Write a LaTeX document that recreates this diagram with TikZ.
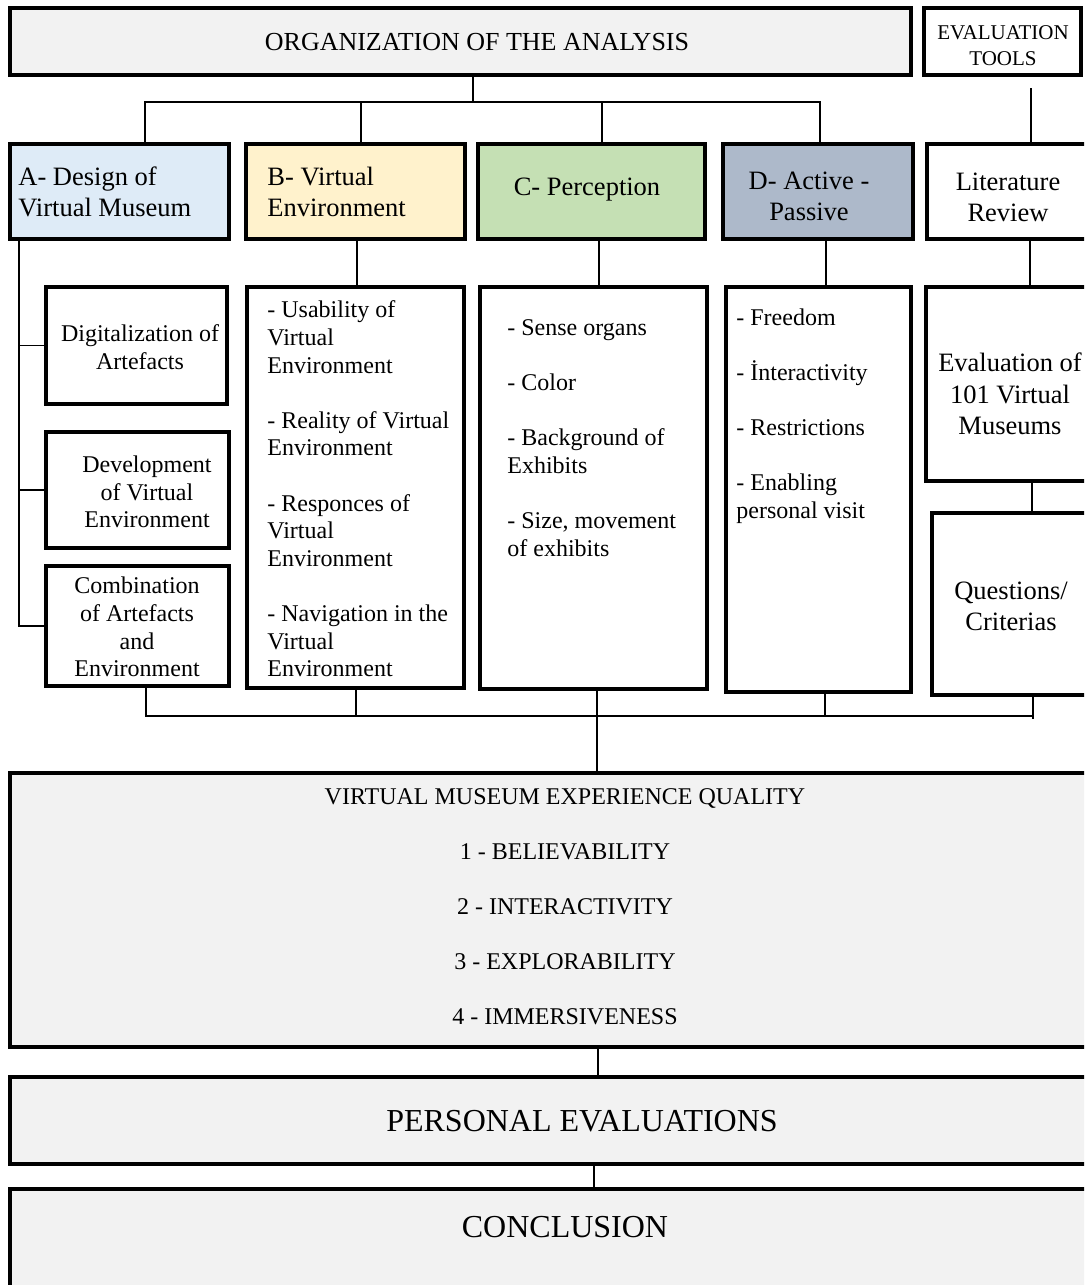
\documentclass[tikz,border=0pt]{standalone}
\usepackage{fontspec}
\setmainfont{Liberation Serif}
\usetikzlibrary{fit}
\definecolor{cA}{HTML}{DEEBF7}
\definecolor{cB}{HTML}{FFF2CC}
\definecolor{cC}{HTML}{C5E0B4}
\definecolor{cD}{HTML}{ADB9CA}
\definecolor{cG}{HTML}{F2F2F2}
\begin{document}
\begin{tikzpicture}[x=0.5pt,y=-0.5pt,
  box/.style={draw=black, line width=1.55pt, inner sep=0pt, rectangle},
  conn/.style={draw=black, line width=0.85pt},
  body/.style={font=\fontsize{12}{13.8}\selectfont, inner sep=0pt},
  head/.style={font=\fontsize{13.25}{15.5}\selectfont, inner sep=0pt},
  big/.style={font=\fontsize{16}{19}\selectfont, inner sep=0pt},
  small/.style={font=\fontsize{10.5}{13}\selectfont, inner sep=0pt},
]
\useasboundingbox (0,0) rectangle (1084,1285);
\clip (0,0) rectangle (1084,1285);

% boxes
\node[box, fill=cG, fit={(10,8)(911,75)}] (org) {};
\node[box, fit={(924,8)(1081,75)}] (evt) {};
\node[box, fill=cA, fit={(10,144)(229,239)}] (A) {};
\node[box, fill=cB, fit={(246,144)(465,239)}] (B) {};
\node[box, fill=cC, fit={(478,144)(705,239)}] (C) {};
\node[box, fill=cD, fit={(723,144)(913,239)}] (D) {};
\node[box, fit={(927,144)(1100,239)}] (lit) {};
\node[box, fit={(46,287)(227,404)}] (a1) {};
\node[box, fit={(46,432)(229,548)}] (a2) {};
\node[box, fit={(46,566)(229,686)}] (a3) {};
\node[box, fit={(247,287)(464,688)}] (Bl) {};
\node[box, fit={(480,287)(707,689)}] (Cl) {};
\node[box, fit={(726,287)(911,692)}] (Dl) {};
\node[box, fit={(926,287)(1100,481)}] (ev) {};
\node[box, fit={(932,513)(1100,695)}] (q) {};
\node[box, fill=cG, fit={(10,773)(1130,1047)}] (vm) {};
\node[box, fill=cG, fit={(10,1077)(1130,1164)}] (pe) {};
\node[box, fill=cG, fit={(10,1189)(1130,1320)}] (co) {};

% texts
\node[font=\fontsize{13}{15}\selectfont, inner sep=0pt] (torg) at (477,42) {ORGANIZATION OF THE ANALYSIS};
\node[small, align=center] (tevt) at (1003,46) {EVALUATION\\TOOLS};
\node[head, align=left, anchor=west] (tA) at (18,192) {A- Design of\\Virtual Museum};
\node[head, align=left, anchor=west] (tB) at (267,192) {B- Virtual\\Environment};
\node[head] (tC) at (587,190) {C- Perception};
\node[head, align=center] (tD) at (809,196) {D- Active -\\Passive};
\node[head, align=center] (tlit) at (1008,197) {Literature\\Review};
\node[body, align=center] (ta1) at (140,347) {Digitalization of\\Artefacts};
\node[body, align=center] (ta2) at (147,492) {Development\\of Virtual\\Environment};
\node[body, align=center] (ta3) at (137,627) {Combination\\of Artefacts\\and\\Environment};
\node[body, align=left, anchor=west] (tBl) at (267,489) {- Usability of\\Virtual\\Environment\\[13.8pt]- Reality of Virtual\\Environment\\[13.8pt]- Responces of\\Virtual\\Environment\\[13.8pt]- Navigation in the\\Virtual\\Environment};
\node[body, align=left, anchor=west] (tCl) at (507,438) {- Sense organs\\[13.8pt]- Color\\[13.8pt]- Background of\\Exhibits\\[13.8pt]- Size, movement\\of exhibits};
\node[body, align=left, anchor=west] (tDl) at (736,416) {- Freedom\\[13.8pt]- İnteractivity\\[13.8pt]- Restrictions\\[13.8pt]- Enabling\\personal visit};
\node[font=\fontsize{13.25}{15.75}\selectfont, inner sep=0pt, align=center] (tev) at (1010,394) {Evaluation of\\101 Virtual\\Museums};
\node[head, align=center] (tq) at (1011,606) {Questions/\\Criterias};
\node[font=\fontsize{12}{27.5}\selectfont, inner sep=0pt, align=center] (tvm) at (565,907) {VIRTUAL MUSEUM EXPERIENCE QUALITY\\1 - BELIEVABILITY\\2 - INTERACTIVITY\\3 - EXPLORABILITY\\4 - IMMERSIVENESS};
\node[big] (tpe) at (582,1121) {PERSONAL EVALUATIONS};
\node[big] (tco) at (565,1227) {CONCLUSION};

% top connectors
\coordinate (bt) at (473,102);
\coordinate (evtend) at (1031,88);
\draw[conn] (org.south -| bt) -- (bt);
\draw[conn] (A.north -| 145,0) |- (bt);
\draw[conn] (bt) -| (D.north -| 820,0);
\draw[conn] (B.north -| 361,0) -- (bt -| 361,0);
\draw[conn] (C.north -| 602,0) -- (bt -| 602,0);
\draw[conn] (evtend) -- (lit.north -| evtend);

% column connectors
\draw[conn] (A.south -| 19,0) |- (a3.west);
\draw[conn] (a1.west) -- (a1.west -| 19,0);
\draw[conn] (a2.west) -- (a2.west -| 19,0);
\draw[conn] (B.south -| 357,0) -- (Bl.north -| 357,0);
\draw[conn] (C.south -| 599,0) -- (Cl.north -| 599,0);
\draw[conn] (D.south -| 826,0) -- (Dl.north -| 826,0);
\draw[conn] (lit.south -| 1030,0) -- (ev.north -| 1030,0);
\draw[conn] (ev.south -| 1032,0) -- (q.north -| 1032,0);

% bottom bus
\coordinate (bb) at (597,716);
\coordinate (qend) at (1033,719);
\draw[conn] (a3.south -| 146,0) |- (bb -| qend);
\draw[conn] (Bl.south -| 356,0) -- (bb -| 356,0);
\draw[conn] (Cl.south -| bb) -- (vm.north -| bb);
\draw[conn] (Dl.south -| 825,0) -- (bb -| 825,0);
\draw[conn] (q.south -| qend) -- (qend);

% bottom chain
\draw[conn] (vm.south -| 598,0) -- (pe.north -| 598,0);
\draw[conn] (pe.south -| 594,0) -- (co.north -| 594,0);
\end{tikzpicture}
\end{document}
